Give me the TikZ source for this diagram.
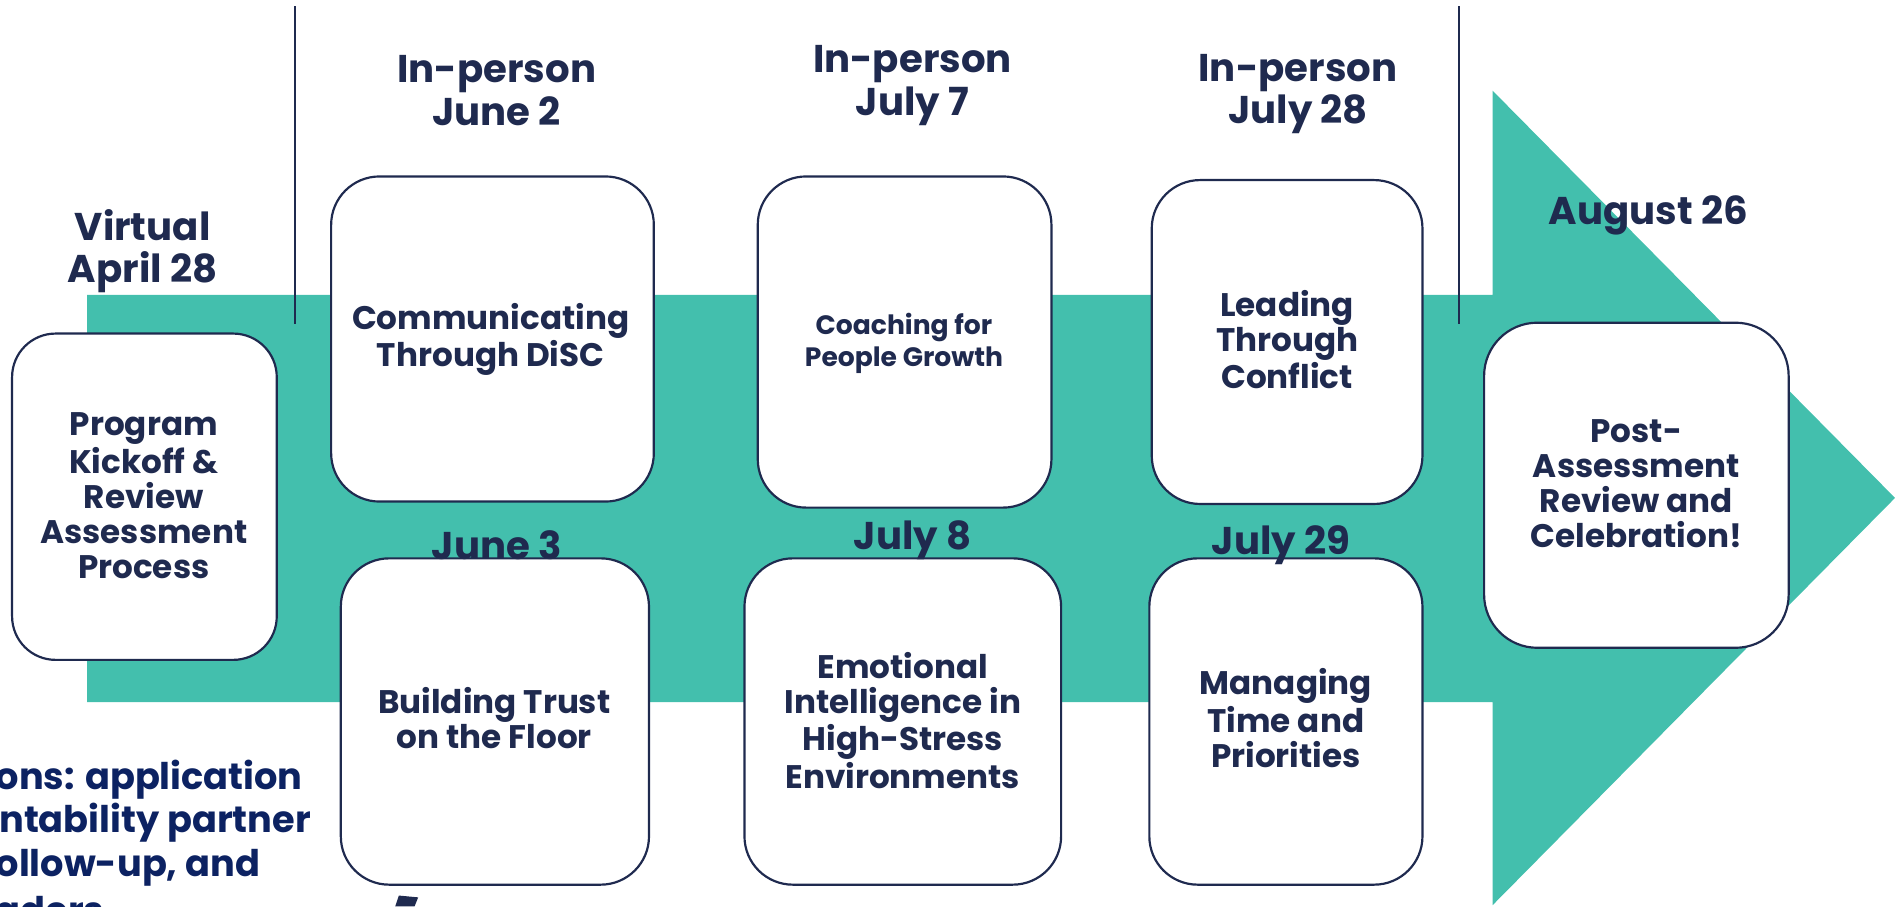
\documentclass[tikz,border=0pt]{standalone}
\usepackage{fontspec}
\setmainfont{Poppins}
\definecolor{teal}{HTML}{43BFAD}
\definecolor{navy}{HTML}{1F2A4F}
\definecolor{deepblue}{HTML}{0C2262}
\begin{document}
\begin{tikzpicture}[x=0.5pt,y=-0.5pt,
  box/.style={draw=navy, line width=0.9pt, fill=white, rounded corners=20pt, inner sep=0pt, outer sep=0pt},
  boxtext/.style={text=navy, align=center, font=\bfseries\fontsize{13.5}{14.5}\selectfont, inner sep=0pt},
  smalltext/.style={text=navy, align=center, font=\bfseries\fontsize{11}{13.5}\selectfont, inner sep=0pt},
  headtext/.style={text=navy, align=center, font=\bfseries\fontsize{16}{17.6}\selectfont, inner sep=0pt},
  sidetext/.style={text=deepblue, anchor=base west, font=\bfseries\fontsize{15.2}{18}\selectfont, inner sep=0pt},
  divider/.style={draw=navy, line width=0.8pt}]
\useasboundingbox (0,0) rectangle (1568,750);
\clip (0,0) rectangle (1568,750);
% arrow band
\fill[teal] (72,244) -- (1235,244) -- (1235,75) -- (1568,412) -- (1235,749) -- (1235,581) -- (72,581) -- cycle;
% dividers
\coordinate (d1t) at (244,5); \coordinate (d1b) at (244,268);
\coordinate (d2t) at (1207,5); \coordinate (d2b) at (1207,268);
\draw[divider] (d1t) -- (d1b);
\draw[divider] (d2t) -- (d2b);
% boxes
\node[box, minimum width=109.5pt, minimum height=135pt, rounded corners=18pt] (b1) at (119.5,411) {};
\node[box, minimum width=133.5pt, minimum height=134.5pt] (b2) at (407.5,280.5) {};
\node[box, minimum width=121.5pt, minimum height=137pt] (b3) at (748.5,283) {};
\node[box, minimum width=112pt, minimum height=134pt] (b4) at (1065,283) {};
\node[box, minimum width=127.5pt, minimum height=135pt] (b5) at (409.5,597) {};
\node[box, minimum width=131pt, minimum height=135pt] (b6) at (747,597) {};
\node[box, minimum width=113pt, minimum height=135pt] (b7) at (1064,597) {};
\node[box, minimum width=126pt, minimum height=134.5pt, rounded corners=22pt] (b8) at (1354,401.5) {};
% box texts
\node[boxtext] (t1) at (119,410) {Program\\Kickoff \&\\Review\\Assessment\\Process};
\node[boxtext] (t2) at (406,281) {Communicating\\Through DiSC};
\node[smalltext] (t3) at (748,284) {Coaching for\\People Growth};
\node[boxtext] (t4) at (1065,281) {Leading\\Through\\Conflict};
\node[boxtext] (t5) at (409,594) {Building Trust\\on the Floor};
\node[boxtext] (t6) at (747,596) {Emotional\\Intelligence in\\High-Stress\\Environments};
\node[boxtext] (t7) at (1064,594) {Managing\\Time and\\Priorities};
\node[boxtext] (t8) at (1354,400) {Post-\\Assessment\\Review and\\Celebration!};
% header labels
\node[headtext] (h1) at (118,208) {Virtual\\April 28};
\node[headtext] (h2) at (411,75) {In-person\\June 2};
\node[headtext] (h3) at (755,71) {In-person\\July 7};
\node[headtext] (h4) at (1074,78) {In-person\\July 28};
\node[headtext] (h5) at (1364,178) {August 26};
\node[headtext] (h6) at (411,451) {June 3};
\node[headtext] (h7) at (755,447) {July 8};
\node[headtext] (h8) at (1060,451) {July 29};
% side text (clipped at left edge, as in the reference)
\node[sidetext] (s1) at (-4,653) {ons: application};
\node[sidetext] (s2) at (-1,689) {ntability partner};
\node[sidetext] (s3) at (-4,725) {ollow-up, and};
\node[sidetext] (s4) at (-4,764) {aders};
% small mark
\fill[navy] (330,741) -- (346,742.5) -- (343,750) -- (327,750) -- cycle;
\end{tikzpicture}
\end{document}
